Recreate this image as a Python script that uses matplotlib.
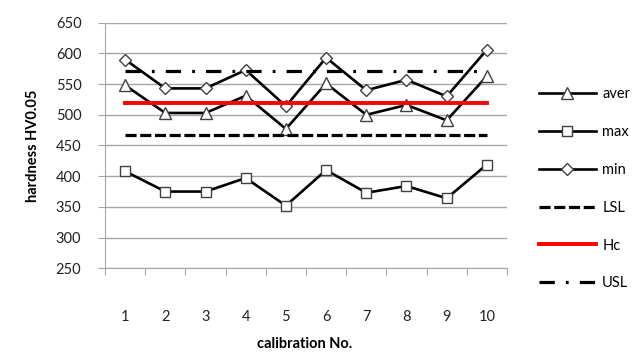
import matplotlib
matplotlib.use("Agg")
import matplotlib.pyplot as plt

# calibration data
calib = [1, 2, 3, 4, 5, 6, 7, 8, 9, 10]
aver = [548, 503, 503, 531, 477, 551, 500, 516, 491, 563]
hmax = [408, 375, 375, 397, 352, 410, 373, 384, 364, 419]
hmin = [590, 543, 543, 573, 514, 593, 540, 557, 530, 606]
lsl = [467] * 10
hc = [520] * 10
usl = [571] * 10
yticks = [250, 300, 350, 400, 450, 500, 550, 600, 650]

plt.rcParams['font.family'] = ['Lato', 'DejaVu Sans']
plt.rcParams['lines.scale_dashes'] = False

fig = plt.figure(figsize=(6.42, 3.52), dpi=100)
ax = fig.add_axes([0.1636, 0.2378, 0.7897 - 0.1636, 0.9355 - 0.2378])

mk = dict(markerfacecolor='white', markeredgecolor='#404040', markeredgewidth=1.0)
ax.plot(calib, aver, color='black', lw=1.9, marker='^', ms=8, label='aver', **mk)
ax.plot(calib, hmax, color='black', lw=1.9, marker='s', ms=7.5, label='max', **mk)
ax.plot(calib, hmin, color='black', lw=1.9, marker='D', ms=6.5, label='min', **mk)
ax.plot(calib, lsl, color='black', lw=2.3, dashes=(8, 2.6), label='LSL')
ax.plot(calib, hc, color='#ff0000', lw=2.8, label='Hc')
ax.plot(calib, usl, color='black', lw=2.3, dashes=(11, 8, 2, 8), label='USL')

ax.set_xlim(0.5, 10.5)
ax.set_ylim(250, 650)
ax.set_yticks(yticks)
ax.yaxis.grid(True, color='#a6a6a6', lw=1.0)
ax.set_axisbelow(True)

# ticks between categories, labels at category centres
ax.set_xticks([x + 0.5 for x in range(0, 11)])
ax.set_xticklabels([])
ax.set_xticks(calib, minor=True)
ax.set_xticklabels([str(c) for c in calib], minor=True)
ax.tick_params(axis='x', which='major', direction='out', length=5, color='#a6a6a6')
ax.tick_params(axis='x', which='minor', length=0, pad=30, labelsize=10.5, labelcolor='#222222')
ax.tick_params(axis='y', direction='out', length=5, color='#a6a6a6', pad=12,
               labelsize=10.5, labelcolor='#222222')

for s in ['top', 'right']:
    ax.spines[s].set_visible(False)
for s in ['left', 'bottom']:
    ax.spines[s].set_color('#a6a6a6')

fig.text(0.052, 0.585, 'hardness HV0.05', rotation=90, ha='center', va='center',
         fontsize=10.5, fontweight='bold')
fig.text(0.475, 0.022, 'calibration No.', ha='center', va='center',
         fontsize=10.5, fontweight='bold')

fig.legend(loc='upper left', bbox_to_anchor=(0.830, 0.768), frameon=False,
           fontsize=10.5, handlelength=3.9, handletextpad=0.45, labelspacing=1.63,
           borderaxespad=0)

fig.savefig('out.png', dpi=100)
